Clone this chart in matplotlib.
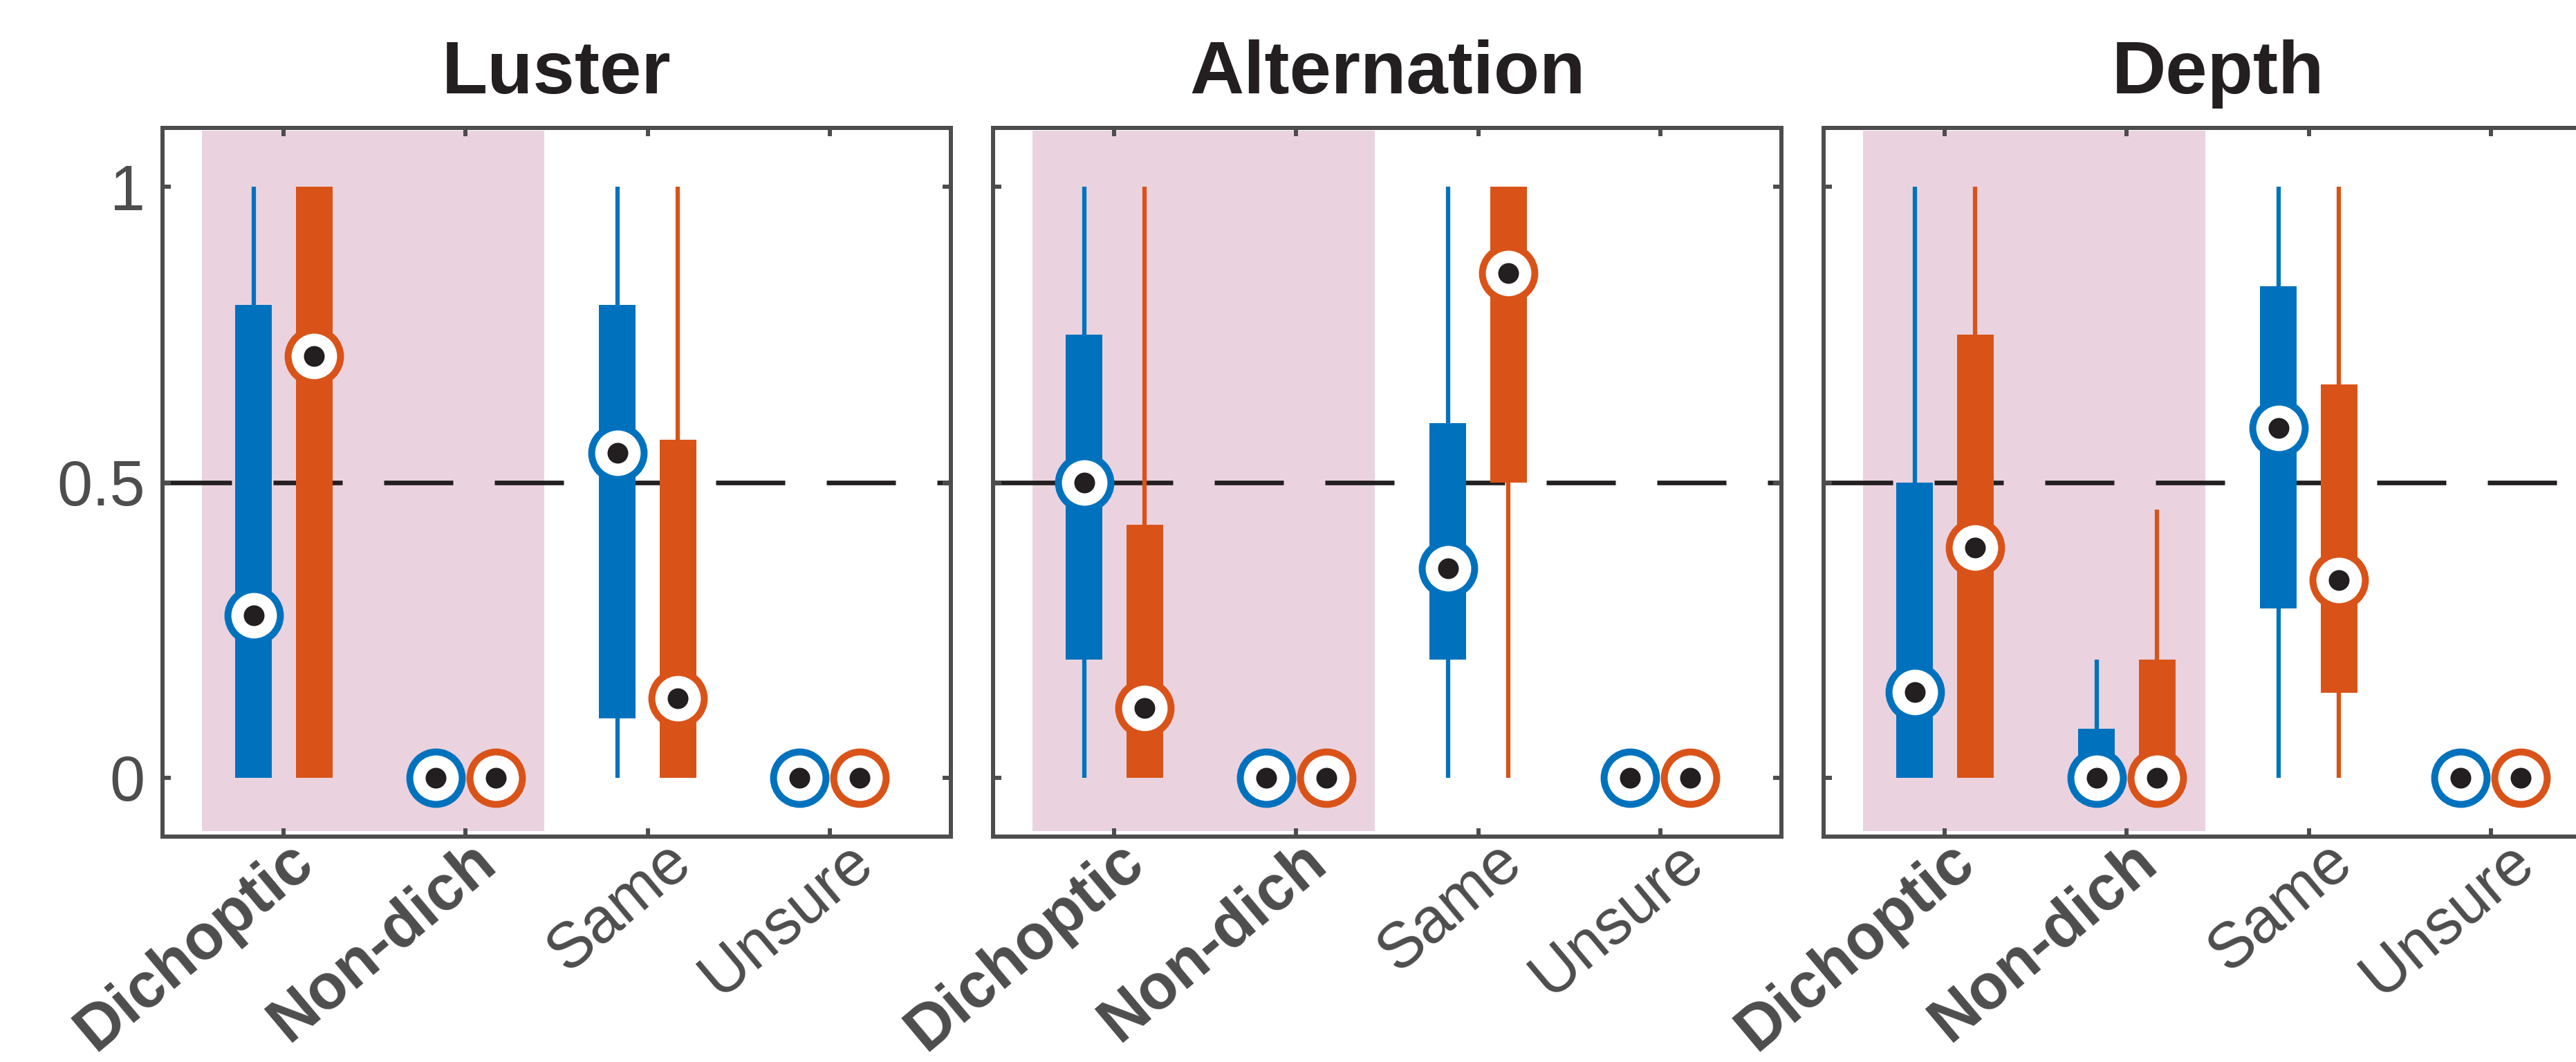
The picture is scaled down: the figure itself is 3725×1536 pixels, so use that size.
import matplotlib.pyplot as plt
import matplotlib.transforms as mtransforms
import numpy as np

plt.rcParams['font.family'] = ['Liberation Sans', 'DejaVu Sans']

titles = ['Luster', 'Alternation', 'Depth']
categories = ['Dichoptic', 'Non-dich', 'Same', 'Unsure']
bold_categories = ['Dichoptic', 'Non-dich']

# one row per category: (whisker low, q1, median, q3, whisker high)
luster_blue = [(0, 0, 0.275, 0.80, 1.0), (0, 0, 0, 0, 0),
               (0, 0.10, 0.55, 0.80, 1.0), (0, 0, 0, 0, 0)]
luster_orange = [(0, 0, 0.714, 1.0, 1.0), (0, 0, 0, 0, 0),
                 (0, 0, 0.134, 0.572, 1.0), (0, 0, 0, 0, 0)]
alternation_blue = [(0, 0.20, 0.50, 0.75, 1.0), (0, 0, 0, 0, 0),
                    (0, 0.20, 0.354, 0.60, 1.0), (0, 0, 0, 0, 0)]
alternation_orange = [(0, 0, 0.118, 0.428, 1.0), (0, 0, 0, 0, 0),
                      (0, 0.50, 0.854, 1.0, 1.0), (0, 0, 0, 0, 0)]
depth_blue = [(0, 0, 0.145, 0.50, 1.0), (0, 0, 0, 0.083, 0.20),
              (0, 0.286, 0.592, 0.832, 1.0), (0, 0, 0, 0, 0)]
depth_orange = [(0, 0, 0.389, 0.75, 1.0), (0, 0, 0, 0.20, 0.454),
                (0, 0.143, 0.334, 0.666, 1.0), (0, 0, 0, 0, 0)]

panels = [(luster_blue, luster_orange),
          (alternation_blue, alternation_orange),
          (depth_blue, depth_orange)]

blue = '#0072BD'
orange = '#D95319'
pink = '#EAD3DF'
dark = '#231F20'
axcol = '#4D4D4D'

W, H = 3725, 1536
fig = plt.figure(figsize=(W / 300, H / 300), dpi=300)

lefts = [235, 1436, 2637]
ax_w, top, bottom = 1140, 185, 1210

# nudge the rotated category labels to the right, as in the original
shift_bold = mtransforms.ScaledTranslation(32 / 300, 0, fig.dpi_scale_trans)
shift_reg = mtransforms.ScaledTranslation(52 / 300, 0, fig.dpi_scale_trans)

for i, (title, (bstats, ostats)) in enumerate(zip(titles, panels)):
    ax = fig.add_axes([lefts[i] / W, (H - bottom) / H, ax_w / W, (bottom - top) / H])
    ax.set_xlim(1 / 3, 14 / 3)
    ax.set_ylim(-0.1, 1.1)

    ax.axvspan(0.55, 2.43, ymin=0.0075, ymax=0.9965, color=pink, lw=0, zorder=0)
    ax.axhline(0.5, color=dark, lw=1.6, dashes=(15, 9), zorder=1)

    pos = np.arange(1, len(categories) + 1)
    for stats, off, col in [(bstats, -1 / 6, blue), (ostats, 1 / 6, orange)]:
        s = np.array(stats)
        x = pos + off
        ax.vlines(x, s[:, 0], s[:, 4], color=col, lw=1.5, zorder=2)
        ax.bar(x, s[:, 3] - s[:, 1], bottom=s[:, 1], width=0.2, color=col,
               lw=0, zorder=3)
        ax.plot(x, s[:, 2], 'o', ms=18.2, mfc='white', mec=col, mew=2.4,
                ls='none', zorder=4)
        ax.plot(x, s[:, 2], 'o', ms=6.2, color=dark, ls='none', zorder=5)

    ax.set_yticks([0, 0.5, 1])
    if i == 0:
        ax.set_yticklabels(['0', '0.5', '1'])
    else:
        ax.set_yticklabels([])

    ax.tick_params(direction='in', length=2.9, width=1.44, top=True, right=True,
                   color=axcol, labelcolor=axcol, labelsize=22)
    ax.tick_params(axis='x', pad=6)
    ax.tick_params(axis='y', pad=6)

    ax.set_xticks(pos)
    ax.set_xticklabels(categories, rotation=40, ha='right', va='center',
                       rotation_mode='anchor', fontsize=22)
    for lab in ax.get_xticklabels():
        if lab.get_text() in bold_categories:
            lab.set_fontweight('bold')
            lab.set_transform(lab.get_transform() + shift_bold)
        else:
            lab.set_transform(lab.get_transform() + shift_reg)

    for sp in ax.spines.values():
        sp.set_linewidth(1.44)
        sp.set_color(axcol)

    ax.set_title(title, fontsize=26, fontweight='bold', color=dark, pad=12)

fig.savefig('out.png', dpi=300)
